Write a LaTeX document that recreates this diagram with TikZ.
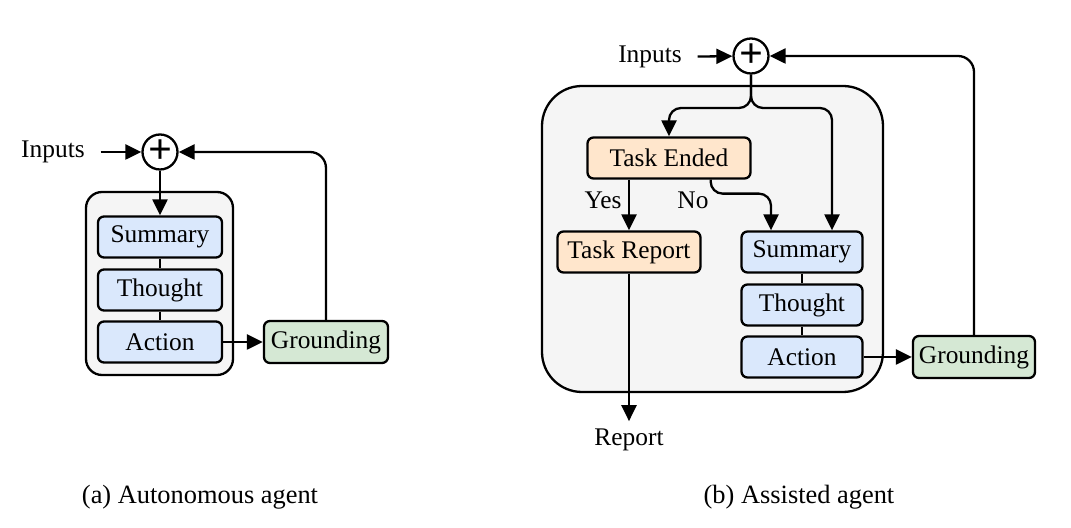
\documentclass[tikz,border=0pt]{standalone}
\usepackage{fontspec}
\setmainfont{Liberation Serif}
\usetikzlibrary{arrows.meta,positioning}
\definecolor{agentfill}{HTML}{DAE8FC}
\definecolor{taskfill}{HTML}{FFE6CC}
\definecolor{groundfill}{HTML}{D5E8D4}
\definecolor{framefill}{HTML}{F5F5F5}

\begin{document}
\begin{tikzpicture}
[
x=0.5pt, y=-0.5pt,
line width=1.15pt,
>={Triangle[length=8pt,width=7.5pt]},
every node/.style={font=\fontsize{12.7}{15}\selectfont},
box/.style={draw, rounded corners=3pt, inner sep=0pt, minimum height=20.5pt},
agent/.style={box, fill=agentfill, minimum width=62pt},
task/.style={box, fill=taskfill},
ground/.style={box, fill=groundfill, minimum width=62pt, minimum height=21pt},
sum/.style={circle, draw, fill=white, minimum size=17.5pt, inner sep=0pt, font=\fontsize{21}{21}\selectfont\bfseries},
frame/.style={draw, fill=framefill},
caption/.style={font=\fontsize{13.2}{15}\selectfont}
]
\useasboundingbox (0,0) rectangle (1071,528);

% (a) autonomous agent
\draw[frame, rounded corners=8pt] (86,192) rectangle (233,375);
\node (inA) at (53,152) {Inputs};
\node[sum] (sumA) at (160,152) {+};
\node[agent] (summA) at (160,237) {Summary};
\node[agent] (thA) at (160,290) {Thought};
\node[agent] (actA) at (160,342) {Action};
\node[ground] (grA) at (326,342) {Grounding};
\node[caption] (capA) at (200,497) {(a) Autonomous agent};

\draw[->, shorten <=4pt] (inA) -- (sumA);
\draw[->] (sumA) -- (summA);
\draw (summA) -- (thA);
\draw (thA) -- (actA);
\draw[->] (actA) -- (grA);
\draw[->, rounded corners=8pt] (grA.north) |- (sumA.east);

% (b) assisted agent
\draw[frame, rounded corners=20pt] (542,86) rectangle (883,392);
\node (inB) at (650,57) {Inputs};
\node[sum] (sumB) at (751,56) {+};
\node[task, minimum width=81.5pt] (endB) at (669,158) {Task Ended};
\node[task, minimum width=71.5pt] (repB) at (629,252) {Task Report};
\node[agent, minimum width=60.5pt] (summB) at (802,252) {Summary};
\node[agent, minimum width=60.5pt] (thB) at (802,305) {Thought};
\node[agent, minimum width=60.5pt] (actB) at (802,357) {Action};
\node[ground, minimum width=61pt] (grB) at (974,357) {Grounding};
\node (yesB) at (603,200) {Yes};
\node (noB) at (693,200) {No};
\node (outB) at (629,440) {Report};
\node[caption] (capB) at (799,497) {(b) Assisted agent};

\coordinate (splitB) at (751,108);
\coordinate (noinB) at ([xshift=-15.5pt]summB.north);
\coordinate (loopinB) at ([xshift=15pt]summB.north);

\draw[->, shorten <=4pt] (inB) -- (sumB);
\draw[->, rounded corners=6pt] (sumB.south) |- (splitB -| endB.north) -- (endB.north);
\draw[->, rounded corners=6pt] (sumB.south) |- (splitB -| loopinB) -- (loopinB);
\draw[->] (endB.south -| repB.north) -- (repB.north);
\draw[->, rounded corners=6pt] ([xshift=-20.5pt]endB.south east) -- ++(0,14) -| (noinB);
\draw[->] (repB) -- (outB);
\draw (summB) -- (thB);
\draw (thB) -- (actB);
\draw[->] (actB) -- (grB);
\draw[->, rounded corners=8pt] (grB.north) |- (sumB.east);
\end{tikzpicture}
\end{document}
